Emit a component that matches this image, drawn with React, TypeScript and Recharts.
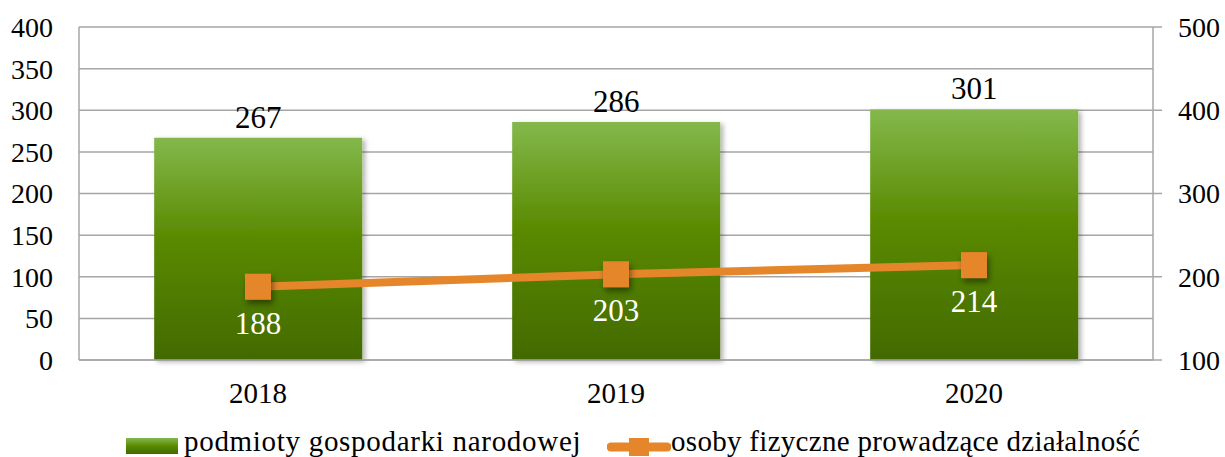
import React from 'react';
import {
  ComposedChart,
  Bar,
  Line,
  XAxis,
  YAxis,
  CartesianGrid,
  Legend,
  LabelList,
} from 'recharts';

const years = ['2018', '2019', '2020'];
const podmioty = [267, 286, 301];
const osoby = [188, 203, 214];
const leftTicks = [0, 50, 100, 150, 200, 250, 300, 350, 400];
const rightTicks = [100, 200, 300, 400, 500];
const seriesNames = ['podmioty gospodarki narodowej', 'osoby fizyczne prowadzące działalność'];

const data = years.map((y, i) => ({ year: y, podmioty: podmioty[i], osoby: osoby[i] }));

const FONT = '"Liberation Serif", serif';
const GRID = '#a6a6a6';
const ORANGE = '#e6862a';
const AXIS_FS = 28;
const LABEL_FS = 31;

const SquareDot = (props: any) => {
  const { cx, cy } = props;
  if (cx == null || cy == null) return null;
  const s = 26;
  return (
    <rect x={cx - s / 2} y={cy - s / 2} width={s} height={s} fill={ORANGE} filter="url(#dotShadow)" />
  );
};

const BarLabel = (props: any) => {
  const { x, y, width, value } = props;
  return (
    <text x={x + width / 2} y={y - 10} textAnchor="middle" fill="#000" fontSize={LABEL_FS} fontFamily={FONT}>
      {value}
    </text>
  );
};

const LineLabel = (props: any) => {
  const { x, y, value } = props;
  return (
    <text x={x} y={y + 47} textAnchor="middle" fill="#fff" fontSize={LABEL_FS} fontFamily={FONT}>
      {value}
    </text>
  );
};

const RightTick = (props: any) => {
  const { x, y, payload } = props;
  return (
    <text x={x + 16} y={y} dy="0.35em" textAnchor="start" fill="#000" fontSize={AXIS_FS} fontFamily={FONT}>
      {payload.value}
    </text>
  );
};

const LegendContent = () => (
  <div style={{ position: 'relative', width: 1225, height: 37, fontFamily: FONT, fontSize: 29, color: '#000' }}>
    <div style={{ position: 'absolute', left: 126, top: 18, width: 52, height: 16, background: 'linear-gradient(#84b84c, #5a8a00 50%, #426a00)' }} />
    <div style={{ position: 'absolute', left: 184, top: 6, whiteSpace: 'nowrap', lineHeight: '30px', letterSpacing: 0.7 }}>{seriesNames[0]}</div>
    <svg style={{ position: 'absolute', left: 607, top: 14 }} width={64} height={26}>
      <line x1={4} y1={13} x2={60} y2={13} stroke={ORANGE} strokeWidth={9} strokeLinecap="round" />
      <rect x={22} y={4} width={20} height={18} fill={ORANGE} />
    </svg>
    <div style={{ position: 'absolute', left: 671, top: 6, whiteSpace: 'nowrap', lineHeight: '30px', letterSpacing: 0.3 }}>{seriesNames[1]}</div>
  </div>
);

export default function App() {
  return (
    <div style={{ position: 'absolute', left: 0, top: 0, width: 1225, height: 457, background: '#fff', overflow: 'hidden' }}>
      <ComposedChart
        width={1225}
        height={457}
        data={data}
        margin={{ top: 27, right: 0, left: 0, bottom: 0 }}
        barCategoryGap="21%"
      >
        <defs>
          <linearGradient id="barGrad" x1="0" y1="0" x2="0" y2="1">
            <stop offset="0%" stopColor="#84b84c" />
            <stop offset="45%" stopColor="#5a8a00" />
            <stop offset="100%" stopColor="#426a00" />
          </linearGradient>
          <filter id="barShadow" x="-10%" y="-10%" width="130%" height="130%">
            <feDropShadow dx={3} dy={2} stdDeviation={2.5} floodColor="#000" floodOpacity={0.3} />
          </filter>
          <filter id="dotShadow" x="-50%" y="-50%" width="200%" height="200%">
            <feDropShadow dx={2} dy={4} stdDeviation={3} floodColor="#000" floodOpacity={0.45} />
          </filter>
        </defs>
        <CartesianGrid yAxisId="left" horizontal vertical={false} stroke={GRID} strokeWidth={1.5} />
        <XAxis
          dataKey="year"
          height={60}
          axisLine={{ stroke: GRID, strokeWidth: 1.5 }}
          tickLine={false}
          tickSize={0}
          tickMargin={22}
          tick={{ fill: '#000', fontSize: 29, fontFamily: FONT }}
        />
        <YAxis
          yAxisId="left"
          orientation="left"
          width={79}
          domain={[0, 400]}
          ticks={leftTicks}
          interval={0}
          axisLine={{ stroke: GRID, strokeWidth: 1.5 }}
          tickLine={false}
          tickSize={0}
          tickMargin={26}
          tick={{ fill: '#000', fontSize: AXIS_FS, fontFamily: FONT }}
        />
        <YAxis
          yAxisId="right"
          orientation="right"
          width={72}
          domain={[100, 500]}
          ticks={rightTicks}
          interval={0}
          axisLine={{ stroke: GRID, strokeWidth: 1.5 }}
          tickLine={{ stroke: GRID, strokeWidth: 1.5 }}
          tickSize={9}
          tickMargin={0}
          tick={<RightTick />}
        />
        <Legend verticalAlign="bottom" height={37} wrapperStyle={{ left: 0, bottom: 0, width: 1225 }} content={() => <LegendContent />} />
        <Bar
          yAxisId="left"
          dataKey="podmioty"
          name={seriesNames[0]}
          fill="url(#barGrad)"
          filter="url(#barShadow)"
          isAnimationActive={false}
        >
          <LabelList dataKey="podmioty" content={<BarLabel />} />
        </Bar>
        <Line
          yAxisId="right"
          dataKey="osoby"
          name={seriesNames[1]}
          stroke={ORANGE}
          strokeWidth={8}
          dot={<SquareDot />}
          activeDot={false}
          isAnimationActive={false}
        >
          <LabelList dataKey="osoby" content={<LineLabel />} />
        </Line>
      </ComposedChart>
    </div>
  );
}
